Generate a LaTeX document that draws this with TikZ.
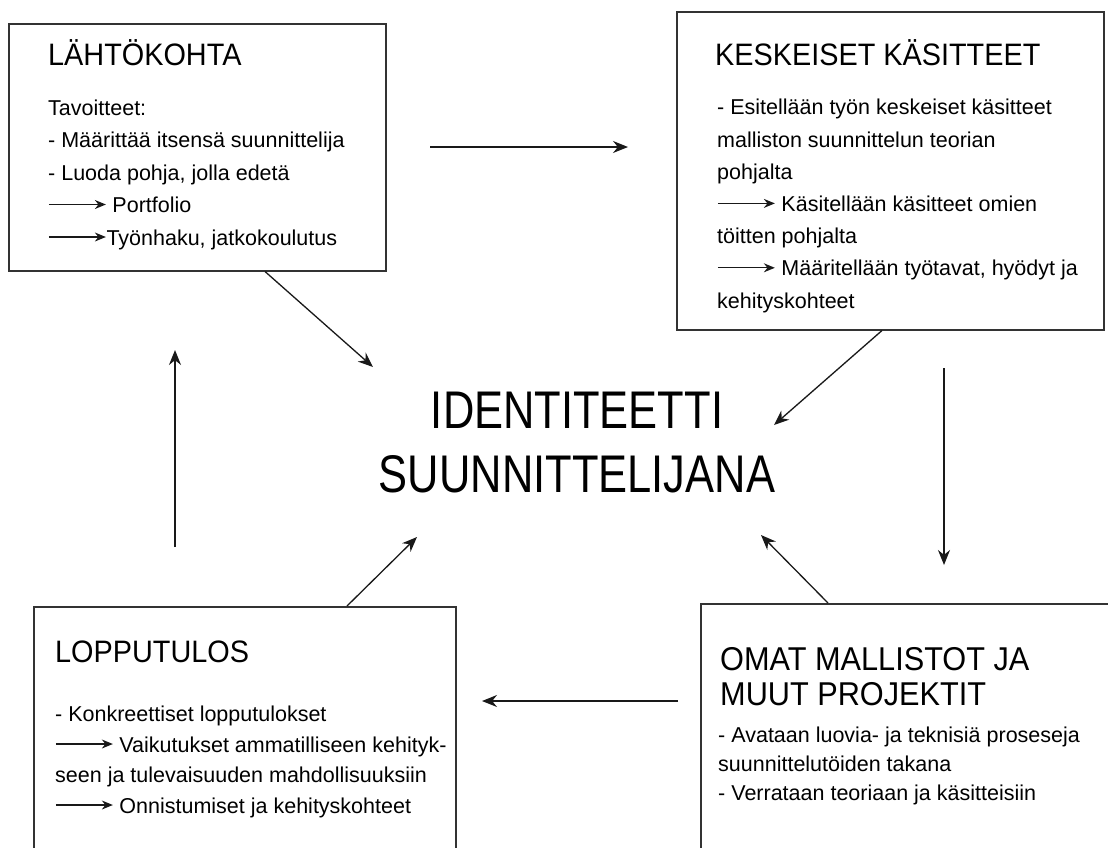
\documentclass[tikz,border=0pt]{standalone}
\usepackage{fontspec}
\setmainfont{Liberation Sans}
\newfontfamily\headfont{Liberation Sans}[FakeStretch=0.93]
\newfontfamily\bigfont{Liberation Sans}[FakeStretch=0.82]
\usetikzlibrary{arrows.meta, calc}

\newcommand{\txtarrow}{\tikz[baseline=-8pt]\draw[line width=1.3pt, black!90, -{Stealth[length=11pt,width=9pt]}] (0pt,0pt) -- (57pt,0pt);}

\begin{document}
\begin{tikzpicture}[x=1pt, y=-1pt,
  box/.style={draw=black!80, line width=1.5pt, rectangle, anchor=north west, inner sep=0pt},
  head/.style={anchor=base west, inner sep=0pt, align=left, font=\headfont\fontsize{31}{35}\selectfont},
  body/.style={anchor=base west, inner sep=0pt, align=left, font=\fontsize{21.5}{#1}\selectfont},
  arr/.style={line width=1.3pt, black!90, -{Stealth[length=15pt,width=12pt]}}]
\useasboundingbox (0,0) rectangle (1108,847);
\clip (0,0) rectangle (1108,847);

% Boxes
\node[box, minimum width=377pt, minimum height=247pt] (lahto) at (8,23) {};
\node[box, minimum width=427pt, minimum height=318pt] (kesk) at (676,11) {};
\node[box, minimum width=422pt, minimum height=300pt] (loppu) at (33,606) {};
\node[box, minimum width=440pt, minimum height=300pt] (omat) at (700,603) {};

% Headings (base = last line)
\node[head] (lahtohead) at (48,65) {LÄHTÖKOHTA};
\node[head] (keskhead) at (715,65) {KESKEISET KÄSITTEET};
\node[head] (loppuhead) at (55,662) {LOPPUTULOS};
\node[head, font=\headfont\fontsize{33}{35}\selectfont] (omathead) at (720,705) {OMAT MALLISTOT JA\\MUUT PROJEKTIT};

% Texts (base = last line)
\node[body=32.5] (lahtotxt) at (48,245) {Tavoitteet:\\- Määrittää itsensä suunnittelija\\- Luoda pohja, jolla edetä\\\txtarrow\ Portfolio\\\txtarrow Työnhaku, jatkokoulutus};
\node[body=32.2] (keskttxt) at (717,308) {- Esitellään työn keskeiset käsitteet\\malliston suunnittelun teorian\\pohjalta\\\txtarrow\ Käsitellään käsitteet omien\\töitten pohjalta\\\txtarrow\ Määritellään työtavat, hyödyt ja\\kehityskohteet};
\node[body=30.5] (lopputxt) at (55,813) {- Konkreettiset lopputulokset\\\txtarrow\ Vaikutukset ammatilliseen kehityk-\\seen ja tulevaisuuden mahdollisuuksiin\\\txtarrow\ Onnistumiset ja kehityskohteet};
\node[body=28.7] (omattxt) at (718,800) {- Avataan luovia- ja teknisiä proseseja\\suunnittelutöiden takana\\- Verrataan teoriaan ja käsitteisiin};

% Centre
\node[font=\bigfont\fontsize{53}{64}\selectfont, align=center, inner sep=0pt] (ident) at (577,443) {IDENTITEETTI\\SUUNNITTELIJANA};

% Arrow ends
\coordinate (topa) at (430,147);
\coordinate (topb) at (628,147);
\coordinate (righta) at (944,368);
\coordinate (rightb) at (944,565);
\coordinate (bota) at (678,701);
\coordinate (botb) at (482,701);
\coordinate (lefta) at (175,547);
\coordinate (leftb) at (175,350);
\coordinate (tipnw) at (373,367);
\coordinate (tipne) at (774,425);
\coordinate (tipse) at (761,535);
\coordinate (tipsw) at (417,537);

% Arrows
\draw[arr] (topa) -- (topb);
\draw[arr] (righta) -- (rightb);
\draw[arr] (bota) -- (botb);
\draw[arr] (lefta) -- (leftb);
\draw[arr] ($(lahto.south west)+(257,0)$) -- (tipnw);
\draw[arr] ($(kesk.south west)+(206,0)$) -- (tipne);
\draw[arr] ($(omat.north west)+(128,0)$) -- (tipse);
\draw[arr] ($(loppu.north west)+(314,0)$) -- (tipsw);
\end{tikzpicture}
\end{document}
